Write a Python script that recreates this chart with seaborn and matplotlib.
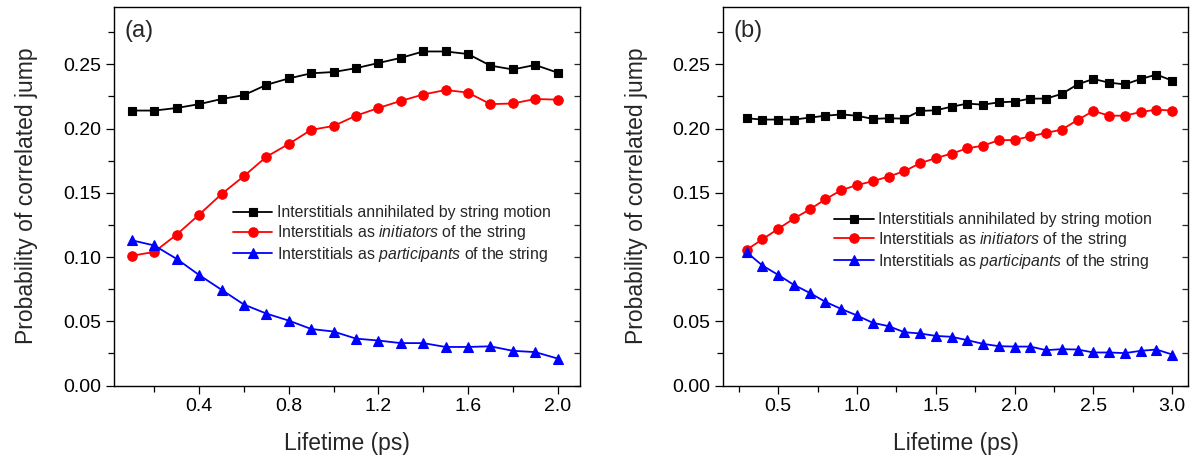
import numpy as np
import pandas as pd
import matplotlib
matplotlib.use("Agg")
import matplotlib.pyplot as plt
from matplotlib.ticker import MultipleLocator
import seaborn as sns

# ---------------- data ----------------
time_a = [0.1, 0.2, 0.3, 0.4, 0.5, 0.6, 0.7, 0.8, 0.9, 1.0,
          1.1, 1.2, 1.3, 1.4, 1.5, 1.6, 1.7, 1.8, 1.9, 2.0]
annih_a = [0.214, 0.214, 0.216, 0.219, 0.223, 0.226, 0.234, 0.239, 0.243, 0.244,
           0.247, 0.251, 0.255, 0.260, 0.260, 0.258, 0.249, 0.246, 0.2495, 0.2435]
init_a = [0.101, 0.104, 0.1175, 0.133, 0.149, 0.163, 0.178, 0.188, 0.199, 0.202,
          0.210, 0.216, 0.2215, 0.2265, 0.230, 0.228, 0.219, 0.2195, 0.223, 0.2225]
part_a = [0.113, 0.109, 0.0985, 0.086, 0.0745, 0.063, 0.056, 0.0505, 0.044, 0.042,
          0.0365, 0.035, 0.033, 0.033, 0.030, 0.030, 0.0305, 0.027, 0.026, 0.021]

time_b = [0.3, 0.4, 0.5, 0.6, 0.7, 0.8, 0.9, 1.0, 1.1, 1.2,
          1.3, 1.4, 1.5, 1.6, 1.7, 1.8, 1.9, 2.0, 2.1, 2.2,
          2.3, 2.4, 2.5, 2.6, 2.7, 2.8, 2.9, 3.0]
annih_b = [0.208, 0.207, 0.207, 0.207, 0.2085, 0.210, 0.211, 0.210, 0.2075, 0.208,
           0.2077, 0.2137, 0.2142, 0.217, 0.2194, 0.2186, 0.2204, 0.221, 0.2233, 0.2233,
           0.227, 0.2344, 0.2386, 0.2357, 0.2344, 0.2386, 0.242, 0.2373]
init_b = [0.1056, 0.1138, 0.1219, 0.130, 0.137, 0.145, 0.152, 0.156, 0.159, 0.1626,
          0.1668, 0.173, 0.177, 0.1805, 0.1846, 0.1867, 0.1909, 0.1911, 0.194, 0.1966,
          0.1992, 0.2067, 0.2137, 0.210, 0.210, 0.2129, 0.2147, 0.214]
part_b = [0.1037, 0.0934, 0.0861, 0.0783, 0.0721, 0.0651, 0.0596, 0.0545, 0.0488, 0.0462,
          0.0415, 0.0405, 0.0386, 0.0379, 0.0353, 0.0324, 0.0306, 0.0303, 0.0303, 0.0275,
          0.0283, 0.028, 0.0257, 0.0257, 0.0252, 0.027, 0.028, 0.0241]

labels = ["Interstitials annihilated by string motion",
          r"Interstitials as $\it{initiators}$ of the string",
          r"Interstitials as $\it{participants}$ of the string"]
panel_tags = ["(a)", "(b)"]

# ---------------- style ----------------
sns.set_theme(style="white")
plt.rcParams['font.family'] = ['Liberation Sans', 'DejaVu Sans']
plt.rcParams['mathtext.fontset'] = 'custom'
plt.rcParams['mathtext.rm'] = 'Liberation Sans'
plt.rcParams['mathtext.it'] = 'Liberation Sans:italic'

fig = plt.figure(figsize=(11.97, 4.62), dpi=100)
W, H = 1197, 462
def axes_px(x0, x1, y0, y1):
    return fig.add_axes([x0 / W, 1 - y1 / H, (x1 - x0) / W, (y1 - y0) / H])

ax_a = axes_px(114, 580, 6.5, 385.5)
ax_b = axes_px(723, 1188, 6.5, 385.5)

styles = [("black", "s", 6.0), ("#ff0000", "o", 6.8), ("#0000ff", "^", 7.5)]

def draw(ax, t, series, xlim, major, minor, tag, leg_xy):
    for (c, m, ms), ys, lab in zip(styles, series, labels):
        df = pd.DataFrame({"t": t, "p": ys})
        sns.lineplot(data=df, x="t", y="p", ax=ax, color=c, marker=m,
                     markersize=ms, markeredgecolor=c, markeredgewidth=0.8,
                     linewidth=1.3, label=lab)
    ax.set_xlim(*xlim)
    ax.set_ylim(0, 0.295)
    ax.xaxis.set_major_locator(MultipleLocator(major))
    ax.xaxis.set_minor_locator(MultipleLocator(minor))
    ax.yaxis.set_major_locator(MultipleLocator(0.05))
    ax.yaxis.set_minor_locator(MultipleLocator(0.025))
    ax.yaxis.set_major_formatter(matplotlib.ticker.FormatStrFormatter('%.2f'))
    ax.xaxis.set_major_formatter(matplotlib.ticker.FormatStrFormatter('%.1f'))
    ax.tick_params(axis='both', which='both', direction='out', colors='black',
                   labelsize=14, bottom=True, left=True, top=False, right=False,
                   pad=3)
    ax.tick_params(which='major', length=6, width=0.9)
    ax.tick_params(which='minor', length=4, width=0.9)
    sec = ax.secondary_yaxis('right')
    sec.yaxis.set_major_locator(MultipleLocator(0.05))
    sec.yaxis.set_minor_locator(MultipleLocator(0.025))
    sec.tick_params(which='both', direction='in', length=4, width=0.9, labelright=False)
    sec.spines['right'].set_visible(False)
    for s in ax.spines.values():
        s.set_color('black')
        s.set_linewidth(1.0)
        s.set_visible(True)
    ax.set_xlabel("Lifetime (ps)", fontsize=16.5, labelpad=12)
    ax.set_ylabel("Probability of correlated jump", fontsize=16.5, labelpad=18)
    ax.text(0.022, 0.935, tag, transform=ax.transAxes, fontsize=17,
            va='center', ha='left')
    ax.legend(loc='center left', bbox_to_anchor=leg_xy, frameon=False,
              fontsize=11.4, handlelength=2.5, handletextpad=0.3,
              labelspacing=0.18, borderpad=0, borderaxespad=0)

draw(ax_a, time_a, [annih_a, init_a, part_a], (0.02, 2.1), 0.4, 0.2,
     panel_tags[0], (0.255, 0.398))
draw(ax_b, time_b, [annih_b, init_b, part_b], (0.15, 3.1), 0.5, 0.25,
     panel_tags[1], (0.239, 0.38))

fig.savefig("out.png", dpi=100)
